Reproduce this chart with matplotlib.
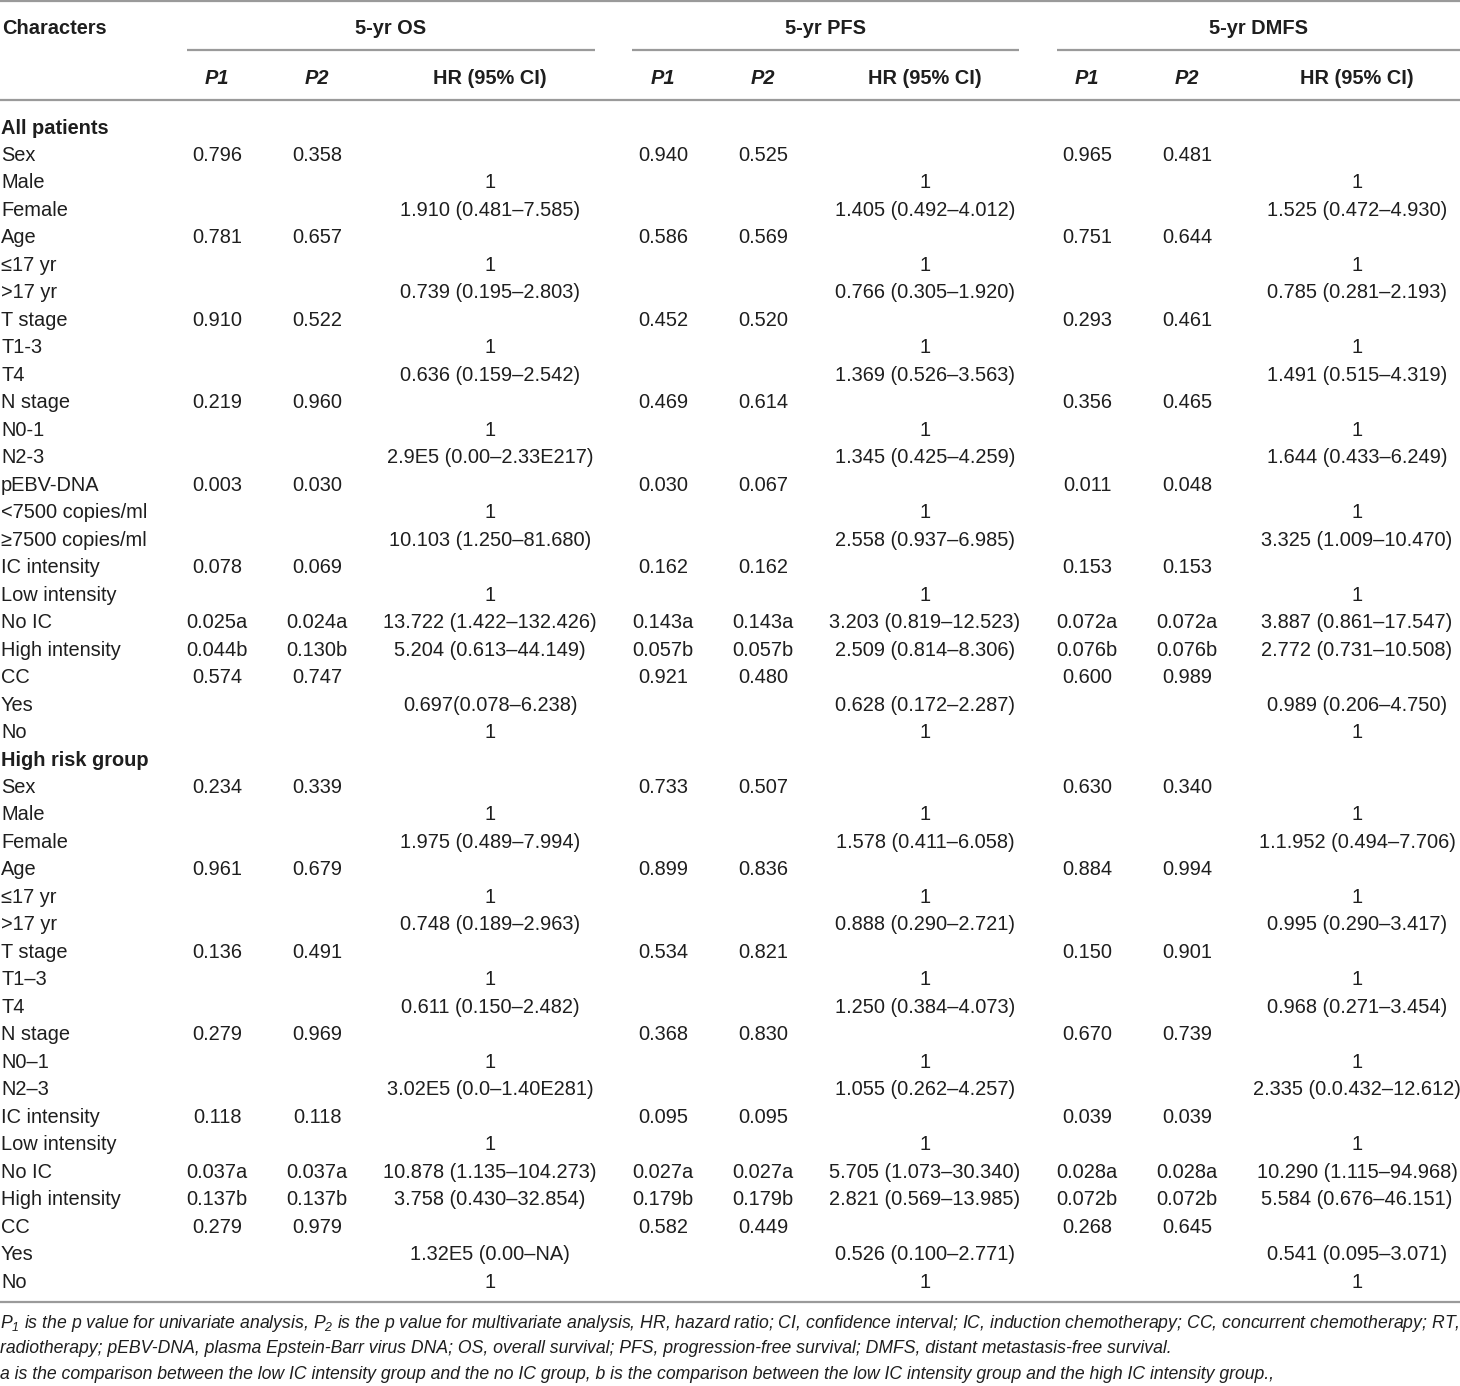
import matplotlib.pyplot as plt
from matplotlib.lines import Line2D

plt.rcParams['font.family'] = ['Liberation Sans', 'DejaVu Sans']
plt.rcParams['mathtext.fontset'] = 'custom'
plt.rcParams['mathtext.rm'] = 'Liberation Sans:italic'
plt.rcParams['mathtext.it'] = 'Liberation Sans:italic'

# table content
groups = ['5-yr OS', '5-yr PFS', '5-yr DMFS']
subheads = ['P1', 'P2', 'HR (95% CI)']

labels = ['All patients',
          'Sex', 'Male', 'Female', 'Age', '≤17 yr', '>17 yr', 'T stage', 'T1-3', 'T4',
          'N stage', 'N0-1', 'N2-3', 'pEBV-DNA', '<7500 copies/ml', '≥7500 copies/ml',
          'IC intensity', 'Low intensity', 'No IC', 'High intensity', 'CC', 'Yes', 'No',
          'High risk group',
          'Sex', 'Male', 'Female', 'Age', '≤17 yr', '>17 yr', 'T stage', 'T1–3', 'T4',
          'N stage', 'N0–1', 'N2–3', 'IC intensity', 'Low intensity', 'No IC',
          'High intensity', 'CC', 'Yes', 'No']
bold_rows = ['All patients', 'High risk group']

os_p1 = ['', '0.796', '', '', '0.781', '', '', '0.910', '', '', '0.219', '', '', '0.003', '', '',
         '0.078', '', '0.025a', '0.044b', '0.574', '', '',
         '', '0.234', '', '', '0.961', '', '', '0.136', '', '', '0.279', '', '', '0.118', '',
         '0.037a', '0.137b', '0.279', '', '']
os_p2 = ['', '0.358', '', '', '0.657', '', '', '0.522', '', '', '0.960', '', '', '0.030', '', '',
         '0.069', '', '0.024a', '0.130b', '0.747', '', '',
         '', '0.339', '', '', '0.679', '', '', '0.491', '', '', '0.969', '', '', '0.118', '',
         '0.037a', '0.137b', '0.979', '', '']
os_hr = ['', '', '1', '1.910 (0.481–7.585)', '', '1', '0.739 (0.195–2.803)', '', '1',
         '0.636 (0.159–2.542)', '', '1', '2.9E5 (0.00–2.33E217)', '', '1', '10.103 (1.250–81.680)',
         '', '1', '13.722 (1.422–132.426)', '5.204 (0.613–44.149)', '', '0.697(0.078–6.238)', '1',
         '', '', '1', '1.975 (0.489–7.994)', '', '1', '0.748 (0.189–2.963)', '', '1',
         '0.611 (0.150–2.482)', '', '1', '3.02E5 (0.0–1.40E281)', '', '1',
         '10.878 (1.135–104.273)', '3.758 (0.430–32.854)', '', '1.32E5 (0.00–NA)', '1']

pfs_p1 = ['', '0.940', '', '', '0.586', '', '', '0.452', '', '', '0.469', '', '', '0.030', '', '',
          '0.162', '', '0.143a', '0.057b', '0.921', '', '',
          '', '0.733', '', '', '0.899', '', '', '0.534', '', '', '0.368', '', '', '0.095', '',
          '0.027a', '0.179b', '0.582', '', '']
pfs_p2 = ['', '0.525', '', '', '0.569', '', '', '0.520', '', '', '0.614', '', '', '0.067', '', '',
          '0.162', '', '0.143a', '0.057b', '0.480', '', '',
          '', '0.507', '', '', '0.836', '', '', '0.821', '', '', '0.830', '', '', '0.095', '',
          '0.027a', '0.179b', '0.449', '', '']
pfs_hr = ['', '', '1', '1.405 (0.492–4.012)', '', '1', '0.766 (0.305–1.920)', '', '1',
          '1.369 (0.526–3.563)', '', '1', '1.345 (0.425–4.259)', '', '1', '2.558 (0.937–6.985)',
          '', '1', '3.203 (0.819–12.523)', '2.509 (0.814–8.306)', '', '0.628 (0.172–2.287)', '1',
          '', '', '1', '1.578 (0.411–6.058)', '', '1', '0.888 (0.290–2.721)', '', '1',
          '1.250 (0.384–4.073)', '', '1', '1.055 (0.262–4.257)', '', '1',
          '5.705 (1.073–30.340)', '2.821 (0.569–13.985)', '', '0.526 (0.100–2.771)', '1']

dmfs_p1 = ['', '0.965', '', '', '0.751', '', '', '0.293', '', '', '0.356', '', '', '0.011', '', '',
           '0.153', '', '0.072a', '0.076b', '0.600', '', '',
           '', '0.630', '', '', '0.884', '', '', '0.150', '', '', '0.670', '', '', '0.039', '',
           '0.028a', '0.072b', '0.268', '', '']
dmfs_p2 = ['', '0.481', '', '', '0.644', '', '', '0.461', '', '', '0.465', '', '', '0.048', '', '',
           '0.153', '', '0.072a', '0.076b', '0.989', '', '',
           '', '0.340', '', '', '0.994', '', '', '0.901', '', '', '0.739', '', '', '0.039', '',
           '0.028a', '0.072b', '0.645', '', '']
dmfs_hr = ['', '', '1', '1.525 (0.472–4.930)', '', '1', '0.785 (0.281–2.193)', '', '1',
           '1.491 (0.515–4.319)', '', '1', '1.644 (0.433–6.249)', '', '1', '3.325 (1.009–10.470)',
           '', '1', '3.887 (0.861–17.547)', '2.772 (0.731–10.508)', '', '0.989 (0.206–4.750)', '1',
           '', '', '1', '1.1.952 (0.494–7.706)', '', '1', '0.995 (0.290–3.417)', '', '1',
           '0.968 (0.271–3.454)', '', '1', '2.335 (0.0.432–12.612)', '', '1',
           '10.290 (1.115–94.968)', '5.584 (0.676–46.151)', '', '0.541 (0.095–3.071)', '1']

footnotes = [
    '$P_1$ is the p value for univariate analysis, $P_2$ is the p value for multivariate analysis, '
    'HR, hazard ratio; CI, confidence interval; IC, induction chemotherapy; CC, concurrent chemotherapy; RT,',
    'radiotherapy; pEBV-DNA, plasma Epstein-Barr virus DNA; OS, overall survival; PFS, '
    'progression-free survival; DMFS, distant metastasis-free survival.',
    'a is the comparison between the low IC intensity group and the no IC group, b is the comparison '
    'between the low IC intensity group and the high IC intensity group.,',
]

# layout (pixels)
W, H = 1460, 1386
txt = '#1e1e1e'
rule = '#9a9a9a'
fs = 14.4
col_x = [[217, 317, 490], [663, 763, 925], [1087, 1187, 1357]]
seg = [(187, 595), (632, 1019), (1057, 1460)]
row0, dy = 128, 27.48

fig = plt.figure(figsize=(W / 100, H / 100), dpi=100)
ax = fig.add_axes([0, 0, 1, 1])
ax.set_xlim(0, W)
ax.set_ylim(H, 0)
ax.axis('off')

def hline(x0, x1, y, lw=1.6):
    ax.add_line(Line2D([x0, x1], [y, y], color=rule, lw=lw, solid_capstyle='butt'))

hline(0, W, 1)
for a, b in seg:
    hline(a, b, 50)
hline(0, W, 100)
hline(0, W, 1302)

ax.text(2, 29, 'Characters', fontsize=fs, fontweight='bold', color=txt, va='center', ha='left')
for g, xs, (a, b) in zip(groups, col_x, seg):
    ax.text((a + b) / 2, 29, g, fontsize=fs, fontweight='bold', color=txt, va='center', ha='center')
    for s, x in zip(subheads, xs):
        style = 'italic' if s.startswith('P') else 'normal'
        ax.text(x, 78, s, fontsize=fs, fontweight='bold', style=style, color=txt,
                va='center', ha='center')

cols = [(os_p1, os_p2, os_hr), (pfs_p1, pfs_p2, pfs_hr), (dmfs_p1, dmfs_p2, dmfs_hr)]
for i, lab in enumerate(labels):
    y = row0 + i * dy
    bold = lab in bold_rows
    ax.text(1, y, lab, fontsize=fs, fontweight='bold' if bold else 'normal', color=txt,
            va='center', ha='left')
    for data, xs in zip(cols, col_x):
        for vals, x in zip(data, xs):
            if vals[i]:
                ax.text(x, y, vals[i], fontsize=fs, color=txt, va='center', ha='center')

# footnote: shrink font so the first line spans the full width
fig.canvas.draw()
r = fig.canvas.get_renderer()
probe = ax.text(0, 0, footnotes[0], fontsize=12, style='italic')
w = probe.get_window_extent(r).width
probe.remove()
ffs = 12 * 1456 / w
for k, line in enumerate(footnotes):
    ax.text(0, 1323 + k * 25.8, line, fontsize=ffs, style='italic', color=txt,
            va='center', ha='left')

fig.savefig('out.png', dpi=100, facecolor='white')
